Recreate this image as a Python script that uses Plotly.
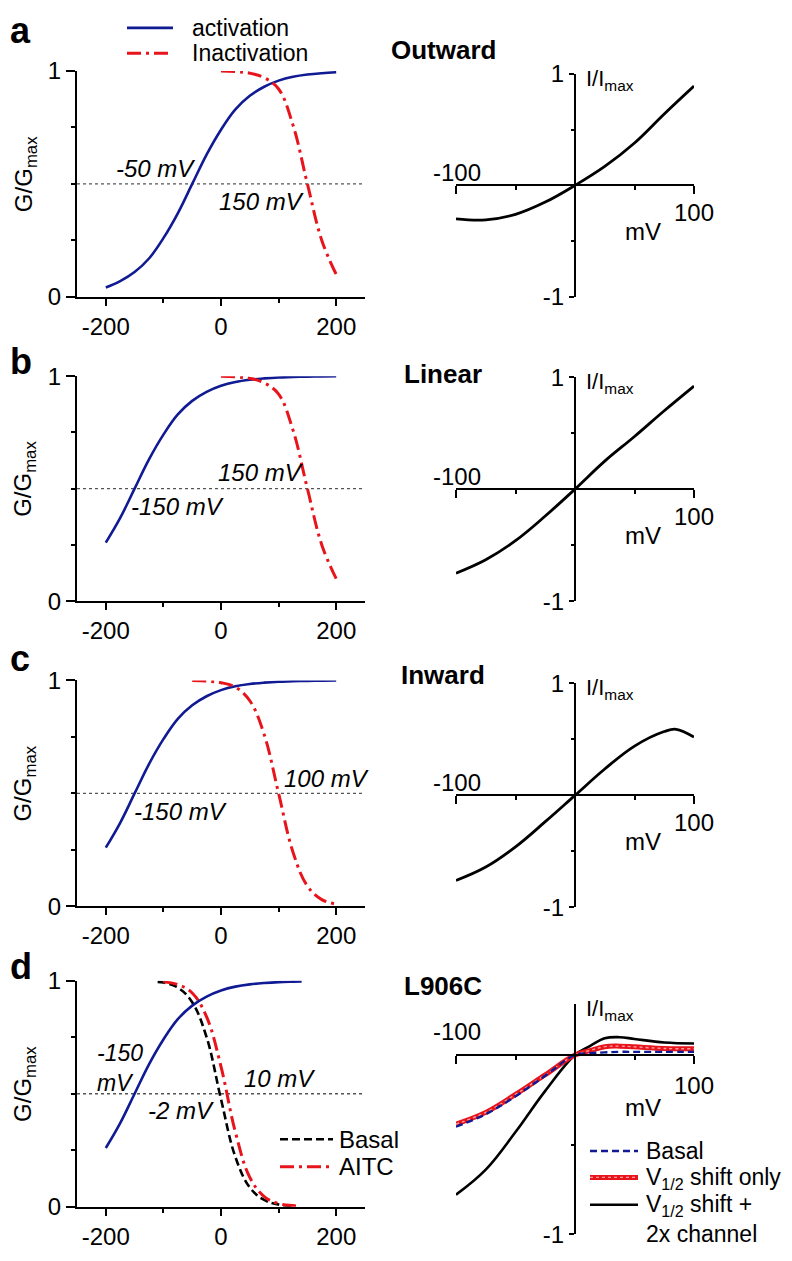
import plotly.graph_objects as go

# page is 792x1261; the html body adds an 8px margin, so the figure is 776x1245
OX, OY = 8, 8
W, H = 776, 1245
FONT = "Liberation Sans, Arial, Helvetica, sans-serif"
BLUE = "#101a92"
RED = "#e8141c"
DASHDOT = "14px,5px,3px,5px"

# ---------------- data ----------------
# Row a : Outward
v_act_a = [-200, -175, -150, -125, -100, -75, -50, -25, 0, 25, 50, 75, 100, 125, 150, 175, 200]
g_act_a = [0.042, 0.07, 0.11, 0.17, 0.26, 0.37, 0.5, 0.63, 0.74, 0.83, 0.89, 0.93, 0.957, 0.974, 0.984, 0.99, 0.994]
v_inact_a = [0, 25, 50, 75, 100, 125, 150, 175, 200]
g_inact_a = [1.0, 0.997, 0.99, 0.97, 0.92, 0.76, 0.5, 0.25, 0.1]
v_iv_a = [-100, -75, -50, -25, 0, 25, 50, 75, 100]
i_iv_a = [-0.30, -0.31, -0.26, -0.15, 0.0, 0.17, 0.38, 0.64, 0.89]

# Row b : Linear
v_act_b = [-200, -175, -150, -125, -100, -75, -50, -25, 0, 25, 50, 75, 100, 125, 150, 175, 200]
g_act_b = [0.26, 0.37, 0.5, 0.63, 0.74, 0.83, 0.89, 0.93, 0.957, 0.974, 0.984, 0.99, 0.994, 0.996, 0.998, 0.999, 1.0]
v_inact_b = [0, 25, 50, 75, 100, 125, 150, 175, 200]
g_inact_b = [1.0, 0.997, 0.99, 0.97, 0.92, 0.76, 0.5, 0.25, 0.1]
v_iv_b = [-100, -75, -50, -25, 0, 25, 50, 75, 100]
i_iv_b = [-0.75, -0.63, -0.46, -0.24, 0.0, 0.25, 0.47, 0.70, 0.92]

# Row c : Inward
v_act_c = [-200, -175, -150, -125, -100, -75, -50, -25, 0, 25, 50, 75, 100, 125, 150, 175, 200]
g_act_c = [0.26, 0.37, 0.5, 0.63, 0.74, 0.83, 0.89, 0.93, 0.957, 0.974, 0.984, 0.99, 0.994, 0.996, 0.998, 0.999, 1.0]
v_inact_c = [-50, -25, 0, 25, 50, 75, 100, 125, 150, 175, 200]
g_inact_c = [1.0, 0.997, 0.99, 0.97, 0.91, 0.76, 0.5, 0.24, 0.09, 0.03, 0.01]
v_iv_c = [-100, -75, -50, -25, 0, 25, 50, 75, 85, 100]
i_iv_c = [-0.76, -0.64, -0.46, -0.235, 0.0, 0.235, 0.44, 0.57, 0.59, 0.52]

# Row d : L906C
v_act_d = [-200, -175, -150, -125, -100, -75, -50, -25, 0, 25, 50, 75, 100, 125, 140]
g_act_d = [0.26, 0.37, 0.5, 0.63, 0.74, 0.83, 0.89, 0.93, 0.957, 0.974, 0.984, 0.99, 0.994, 0.996, 0.997]
v_basal_d = [-110, -100, -75, -50, -25, 0, 25, 50, 75, 100, 125]
g_basal_d = [0.995, 0.992, 0.97, 0.905, 0.75, 0.476, 0.22, 0.085, 0.03, 0.01, 0.003]
v_aitc_d = [-100, -75, -50, -25, 0, 25, 50, 75, 100, 125, 135]
g_aitc_d = [0.995, 0.983, 0.946, 0.84, 0.62, 0.33, 0.13, 0.045, 0.014, 0.005, 0.003]
v_iv_d = [-100, -75, -50, -25, 0, 12.5, 25, 37.5, 50, 75, 100]
i_basal_d = [-0.40, -0.33, -0.23, -0.115, 0.0, 0.01, 0.015, 0.018, 0.018, 0.018, 0.018]
i_shift_d = [-0.385, -0.32, -0.22, -0.11, 0.0, 0.025, 0.047, 0.05, 0.046, 0.037, 0.035]
i_2x_d = [-0.78, -0.64, -0.43, -0.20, 0.0, 0.05, 0.094, 0.1, 0.09, 0.07, 0.065]

g_ticks = [-200, 0, 200]
g_tick_text = ["-200", "0", "200"]
row_titles = ["Outward", "Linear", "Inward", "L906C"]
row_letters = ["a", "b", "c", "d"]
half_labels = [
    [("-50 mV", -113, 0.567), ("150 mV", 71, 0.42)],
    [("150 mV", 68, 0.574), ("-150 mV", -75, 0.42)],
    [("100 mV", 183, 0.567), ("-150 mV", -70, 0.42)],
    [("10 mV", 101, 0.567), ("-2 mV", -70, 0.424)],
]

# ---------------- helpers ----------------
def px(xp):
    return (xp - OX) / W

def py(yp):
    return 1 - (yp - OY) / H

def fnt(size=24, color="black"):
    return dict(family=FONT, size=size, color=color)

left_px = [(58, 289), (370, 600), (681, 912), (988, 1219)]
right_px = [(61, 289, 175), (371, 600, 485.5), (684, 913, 798.5), (1012, 1247, 1064)]
right_ranges = [(-1, 1), (-1, 1), (-1, 1), (-1, 0.284)]
letter_y = [17, 355, 659, 973]
title_y = [37, 368, 675, 993]

fig = go.Figure()

def line_trace(x, y, k, color, width=2.6, dash="solid"):
    fig.add_trace(go.Scatter(
        x=x, y=y, mode="lines", xaxis=f"x{k}", yaxis=f"y{k}",
        line=dict(color=color, width=width, dash=dash, shape="spline", smoothing=1.1),
        cliponaxis=False, showlegend=False, hoverinfo="skip"))

# left panels
line_trace(v_act_a, g_act_a, 1, BLUE)
line_trace(v_inact_a, g_inact_a, 1, RED, 3, DASHDOT)
line_trace(v_act_b, g_act_b, 2, BLUE)
line_trace(v_inact_b, g_inact_b, 2, RED, 3, DASHDOT)
line_trace(v_act_c, g_act_c, 3, BLUE)
line_trace(v_inact_c, g_inact_c, 3, RED, 3, DASHDOT)
line_trace(v_basal_d, g_basal_d, 4, "black", 2.6, "8px,4px")
line_trace(v_aitc_d, g_aitc_d, 4, RED, 3, DASHDOT)
line_trace(v_act_d, g_act_d, 4, BLUE)

# right panels
line_trace(v_iv_a, i_iv_a, 5, "black", 2.8)
line_trace(v_iv_b, i_iv_b, 6, "black", 2.8)
line_trace(v_iv_c, i_iv_c, 7, "black", 2.8)
line_trace(v_iv_d, i_2x_d, 8, "black", 2.6)
line_trace(v_iv_d, i_shift_d, 8, RED, 5)
line_trace(v_iv_d, i_shift_d, 8, "#ff9a9a", 1.4, "dot")
line_trace(v_iv_d, i_basal_d, 8, BLUE, 2.4, "7px,4px")

common = dict(showline=True, linecolor="black", linewidth=2, ticks="outside",
              tickcolor="black", tickwidth=2, showgrid=False, zeroline=False,
              tickfont=fnt(24), fixedrange=True)

layout = dict(width=W, height=H, margin=dict(l=0, r=0, t=0, b=0, pad=0),
              paper_bgcolor="white", plot_bgcolor="rgba(0,0,0,0)",
              font=fnt(24), showlegend=False)

shapes = []
annotations = []

def ann(text, xp, yp, size=24, xanchor="center", yanchor="middle", **kw):
    d = dict(text=text, x=px(xp), y=py(yp), xref="paper", yref="paper",
             xanchor=xanchor, yanchor=yanchor, showarrow=False, font=fnt(size))
    d.update(kw)
    annotations.append(d)

for i in range(4):
    k = i + 1
    top, bot = left_px[i]
    layout[f"xaxis{k}"] = dict(common, domain=[px(77), px(365)], range=[-250, 250],
                               anchor=f"y{k}", tickvals=g_ticks, ticktext=g_tick_text, ticklen=7,
                               minor=dict(tickvals=[-100, 100], ticklen=4, ticks="outside",
                                          tickcolor="black", tickwidth=2))
    layout[f"yaxis{k}"] = dict(common, domain=[py(bot), py(top)], range=[0, 1],
                               anchor=f"x{k}", tickvals=[0, 1], ticktext=["0", "1"], ticklen=9,
                               minor=dict(tickvals=[0.25, 0.5, 0.75], ticklen=4, ticks="outside",
                                          tickcolor="black", tickwidth=2))
    shapes.append(dict(type="line", xref=f"x{k}", yref=f"y{k}", x0=-250, x1=250, y0=0.5, y1=0.5,
                       line=dict(color="#555555", width=1.4, dash="dot"), layer="below"))
    ann("G/G<sub>max</sub>", 25, (top + bot) / 2 - 10, textangle=-90)
    ann(f"<b>{row_letters[i]}</b>", OX, letter_y[i], size=36, xanchor="left")
    for (txt, xv, yv) in half_labels[i]:
        annotations.append(dict(text=f"<i>{txt}</i>", x=xv, y=yv, xref=f"x{k}", yref=f"y{k}",
                                xanchor="center", yanchor="middle", showarrow=False, font=fnt(24)))

# d: two-line "-150 / mV" label
ann("<i>-150<br>mV</i>", 95, 1077, size=23, xanchor="left", align="left")

for i in range(4):
    k = i + 5
    top, bot, zero = right_px[i]
    rng = right_ranges[i]
    full = rng[1] >= 1
    tv = [-1, 1] if full else [-1]
    layout[f"xaxis{k}"] = dict(common, domain=[px(456), px(694)], range=[-100, 100],
                               anchor="free", position=py(zero), tickvals=[-100, 100], ticklen=8,
                               showticklabels=False,
                               minor=dict(tickvals=[-50, 50], ticklen=4, ticks="outside",
                                          tickcolor="black", tickwidth=2))
    layout[f"yaxis{k}"] = dict(common, domain=[py(bot), py(top)], range=list(rng),
                               anchor="free", position=px(575), tickvals=tv,
                               ticktext=[str(t) for t in tv], ticklen=5,
                               minor=dict(tickvals=[-0.5, 0.5] if full else [-0.5], ticklen=3,
                                          ticks="outside", tickcolor="black", tickwidth=2))
    above = 13 if full else 24
    below = 28 if full else 31
    mvoff = 47 if full else 54
    ann("-100", 457, zero - above)
    ann("100", 694, zero + below)
    ann("mV", 643, zero + mvoff)
    ann("I/I<sub>max</sub>", 584, top + 6, size=22, xanchor="left")
    ann(f"<b>{row_titles[i]}</b>", 443, title_y[i], size=26)

# ---------- legends (drawn manually) ----------
def leg_line(x0, x1, y, color, width, dash="solid"):
    shapes.append(dict(type="line", xref="paper", yref="paper", x0=px(x0), x1=px(x1), y0=py(y), y1=py(y),
                       line=dict(color=color, width=width, dash=dash)))

def leg_text(x, y, txt, size=24, **kw):
    ann(txt, x, y, size=size, xanchor="left", **kw)

leg_line(127, 173, 14, BLUE, 2.6)
leg_text(190, 14, "activation", size=23)
leg_line(127, 173, 40, RED, 3, DASHDOT)
leg_text(190, 40, "Inactivation", size=23)

leg_line(280, 333, 1150, "black", 2.6, "8px,4px")
leg_text(337, 1150, "Basal")
leg_line(280, 333, 1178, RED, 3, DASHDOT)
leg_text(337, 1178, "AITC")

leg_line(590, 638, 1162, BLUE, 2.4, "7px,4px")
leg_text(644, 1162, "Basal", size=23)
leg_line(590, 638, 1189, RED, 5)
leg_line(590, 638, 1189, "#ff9a9a", 1.4, "dot")
leg_text(644, 1190, "V<sub>1/2</sub> shift only", size=23)
leg_line(590, 638, 1217, "black", 2.6)
leg_text(644, 1232, "V<sub>1/2</sub> shift +<br>2x channel", size=23, align="left")

layout["shapes"] = shapes
layout["annotations"] = annotations
fig.update_layout(**layout)
fig.write_html("out.html")
